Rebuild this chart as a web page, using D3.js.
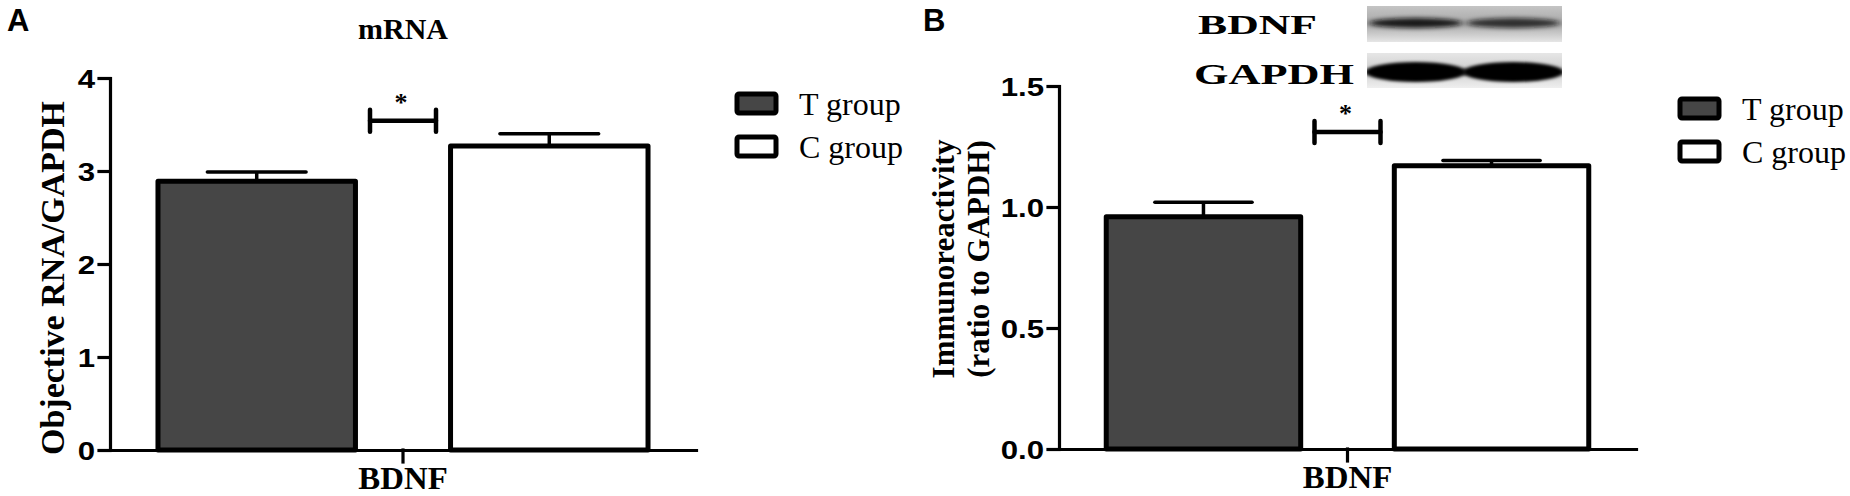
<!DOCTYPE html>
<html><head><meta charset="utf-8">
<script src="https://cdn.jsdelivr.net/npm/d3@7"></script>
<style>body{margin:0;background:#fff}svg{display:block}</style>
</head><body>
<svg id="c" width="1850" height="496"></svg>
<script>
// ---------- data ----------
const categories = ["BDNF"];
const groups = ["T group", "C group"];
const groupFills = ["#464646", "#ffffff"];

const mrnaMean = [2.89, 3.27];
const mrnaSem = [0.10, 0.13];
const mrnaTicks = [0, 1, 2, 3, 4];
const mrnaSig = 3.54;

const protMean = [0.96, 1.17];
const protSem = [0.06, 0.022];
const protTicks = [0.0, 0.5, 1.0, 1.5];
const protSig = 1.31;

const blotLabels = ["BDNF", "GAPDH"];
const blotBdnfDarkness = [0.92, 0.78];
const blotGapdhDarkness = [1.0, 1.0];

// ---------- drawing ----------
const svg = d3.select("#c");
const SERIF = "'Liberation Serif','Times New Roman',serif";
const SANS = "'Liberation Sans',Arial,sans-serif";
const defs = svg.append("defs");

function stretch(sel, k) {
  sel.each(function () {
    const w = this.getComputedTextLength();
    d3.select(this).attr("textLength", w * k).attr("lengthAdjust", "spacingAndGlyphs");
  });
}

function panel(o) {
  const g = svg.append("g");
  const x0 = d3.scaleBand().domain(categories).range([o.xLeft, o.xRight]);
  const x1 = d3.scaleBand().domain(groups).range([0, x0.bandwidth()])
    .paddingInner(0.325).paddingOuter(0.164);
  const y = d3.scaleLinear().domain([0, o.yMax]).range([o.yBottom, o.yTop]);

  // panel letter
  g.append("text").attr("x", o.letterX).attr("y", 31)
    .attr("font-family", SANS).attr("font-weight", "bold").attr("font-size", 31)
    .text(o.letter);

  // bars
  const cat = categories[0];
  const cx = x0(cat) + x0.bandwidth() / 2;
  groups.forEach((grp, i) => {
    const bx = x0(cat) + x1(grp);
    const bw = x1.bandwidth();
    const m = o.means[i], s = o.sems[i];
    const bc = bx + bw / 2;
    g.append("line").attr("x1", bc).attr("x2", bc).attr("y1", y(m)).attr("y2", y(m + s))
      .attr("stroke", "#000").attr("stroke-width", 3.5);
    g.append("line").attr("x1", bc - bw * 0.25).attr("x2", bc + bw * 0.25)
      .attr("y1", y(m + s)).attr("y2", y(m + s))
      .attr("stroke", "#000").attr("stroke-width", 3.5).attr("stroke-linecap", "round");
    g.append("rect").attr("x", bx).attr("y", y(m)).attr("width", bw).attr("height", y(0) - y(m))
      .attr("fill", groupFills[i]).attr("stroke", "#000").attr("stroke-width", 5)
      .attr("stroke-linejoin", "round");
  });

  // axes
  const ya = g.append("g").attr("transform", `translate(${o.xLeft},0)`)
    .call(d3.axisLeft(y).tickValues(o.ticks).tickSize(11).tickSizeOuter(0).tickPadding(4).tickFormat(o.fmt));
  ya.selectAll("path,line").attr("stroke", "#000").attr("stroke-width", 3.2).attr("stroke-linecap", "square");
  ya.selectAll("text").attr("font-family", SANS).attr("font-weight", "bold").attr("font-size", 26)
    .attr("fill", "#000").attr("dy", "0.36em");
  stretch(ya.selectAll("text"), 1.2);

  const xa = g.append("g").attr("transform", `translate(0,${o.yBottom})`)
    .call(d3.axisBottom(x0).tickSize(12).tickSizeOuter(0));
  xa.selectAll("path,line").attr("stroke", "#000").attr("stroke-width", 3.2).attr("stroke-linecap", "square");
  xa.selectAll("text").attr("font-family", SERIF).attr("font-weight", "bold")
    .attr("font-size", 31).attr("fill", "#000").attr("y", 39).attr("dy", 0);
  stretch(xa.selectAll("text"), 1.06);
  ya.raise();

  // significance bracket
  const sy = y(o.sig);
  const sg = g.append("g").attr("stroke", "#000").attr("stroke-width", 4.5).attr("stroke-linecap", "round");
  sg.append("line").attr("x1", cx - 33).attr("x2", cx + 33).attr("y1", sy).attr("y2", sy);
  sg.append("line").attr("x1", cx - 33).attr("x2", cx - 33).attr("y1", sy - 11).attr("y2", sy + 11);
  sg.append("line").attr("x1", cx + 33).attr("x2", cx + 33).attr("y1", sy - 11).attr("y2", sy + 11);
  g.append("text").attr("x", cx - 2).attr("y", sy - 10).attr("text-anchor", "middle")
    .attr("font-family", SERIF).attr("font-weight", "bold").attr("font-size", 26).text("*");

  // title
  if (o.title) {
    const t = g.append("text").attr("x", cx).attr("y", 39).attr("text-anchor", "middle")
      .attr("font-family", SERIF).attr("font-weight", "bold").attr("font-size", 30).text(o.title);
  }

  // y label
  o.ylabel.forEach((line, k) => {
    g.append("text")
      .attr("transform", `translate(${o.ylabelX[k]},${o.ylabelY}) rotate(-90)`)
      .attr("text-anchor", "middle")
      .attr("font-family", SERIF).attr("font-weight", "bold").attr("font-size", o.ylabelSize)
      .text(line);
  });

  // legend
  groups.forEach((grp, i) => {
    const ly = o.legendY + i * 43;
    g.append("rect").attr("x", o.legendX).attr("y", ly).attr("width", 39).attr("height", 19)
      .attr("rx", 2).attr("fill", groupFills[i]).attr("stroke", "#000").attr("stroke-width", 5);
    g.append("text").attr("x", o.legendX + 62).attr("y", ly + 21)
      .attr("font-family", SERIF).attr("font-size", 32).text(grp);
  });
}

panel({
  letter: "A", letterX: 7, title: "mRNA",
  xLeft: 110, xRight: 696, yTop: 78, yBottom: 450, yMax: 4,
  ticks: mrnaTicks, fmt: d3.format("d"),
  means: mrnaMean, sems: mrnaSem, sig: mrnaSig,
  ylabel: ["Objective RNA/GAPDH"], ylabelX: [64], ylabelY: 278, ylabelSize: 34,
  legendX: 737, legendY: 94
});

panel({
  letter: "B", letterX: 923, title: null,
  xLeft: 1059, xRight: 1636, yTop: 86, yBottom: 449, yMax: 1.5,
  ticks: protTicks, fmt: d3.format(".1f"),
  means: protMean, sems: protSem, sig: protSig,
  ylabel: ["Immunoreactivity", "(ratio to GAPDH)"], ylabelX: [954, 989], ylabelY: 259, ylabelSize: 31,
  legendX: 1680, legendY: 99
});

// ---------- western blot inset ----------
const lanes = d3.scaleBand().domain(groups).range([1367, 1562]);
const blur = defs.append("filter").attr("id", "blur").attr("x", "-20%").attr("y", "-100%")
  .attr("width", "140%").attr("height", "300%");
blur.append("feGaussianBlur").attr("stdDeviation", "3 2.2");
const blur2 = defs.append("filter").attr("id", "blur2").attr("x", "-20%").attr("y", "-100%")
  .attr("width", "140%").attr("height", "300%");
blur2.append("feGaussianBlur").attr("stdDeviation", "2 1.6");

const gb = defs.append("linearGradient").attr("id", "bgB").attr("x1", 0).attr("x2", 0).attr("y1", 0).attr("y2", 1);
gb.append("stop").attr("offset", "0%").attr("stop-color", "#c4c4c4");
gb.append("stop").attr("offset", "50%").attr("stop-color", "#a8a8a8");
gb.append("stop").attr("offset", "100%").attr("stop-color", "#e6e6e6");
const gg = defs.append("linearGradient").attr("id", "bgG").attr("x1", 0).attr("x2", 0).attr("y1", 0).attr("y2", 1);
gg.append("stop").attr("offset", "0%").attr("stop-color", "#e6e6e6");
gg.append("stop").attr("offset", "50%").attr("stop-color", "#cfcfcf");
gg.append("stop").attr("offset", "100%").attr("stop-color", "#efefef");

defs.append("clipPath").attr("id", "clipB").append("rect").attr("x", 1367).attr("y", 6).attr("width", 195).attr("height", 36);
defs.append("clipPath").attr("id", "clipG").append("rect").attr("x", 1367).attr("y", 53).attr("width", 195).attr("height", 35);

const rowB = svg.append("g").attr("clip-path", "url(#clipB)");
rowB.append("rect").attr("x", 1367).attr("y", 6).attr("width", 195).attr("height", 36).attr("fill", "url(#bgB)");
groups.forEach((grp, i) => {
  rowB.append("ellipse").attr("cx", lanes(grp) + lanes.bandwidth() / 2).attr("cy", 23)
    .attr("rx", lanes.bandwidth() / 2 - 2).attr("ry", 5)
    .attr("fill", "#111").attr("opacity", blotBdnfDarkness[i]).attr("filter", "url(#blur)");
});
const rowG = svg.append("g").attr("clip-path", "url(#clipG)");
rowG.append("rect").attr("x", 1367).attr("y", 53).attr("width", 195).attr("height", 35).attr("fill", "url(#bgG)");
groups.forEach((grp, i) => {
  rowG.append("ellipse").attr("cx", lanes(grp) + lanes.bandwidth() / 2).attr("cy", 72)
    .attr("rx", lanes.bandwidth() / 2 + 2).attr("ry", 10)
    .attr("fill", "#000").attr("opacity", blotGapdhDarkness[i]).attr("filter", "url(#blur2)");
});

svg.append("text").attr("x", 1198).attr("y", 34).attr("textLength", 119).attr("lengthAdjust", "spacingAndGlyphs")
  .attr("font-family", SERIF).attr("font-weight", "bold").attr("font-size", 28).text(blotLabels[0]);
svg.append("text").attr("x", 1194).attr("y", 84).attr("textLength", 160).attr("lengthAdjust", "spacingAndGlyphs")
  .attr("font-family", SERIF).attr("font-weight", "bold").attr("font-size", 29).text(blotLabels[1]);
</script>
</body></html>
